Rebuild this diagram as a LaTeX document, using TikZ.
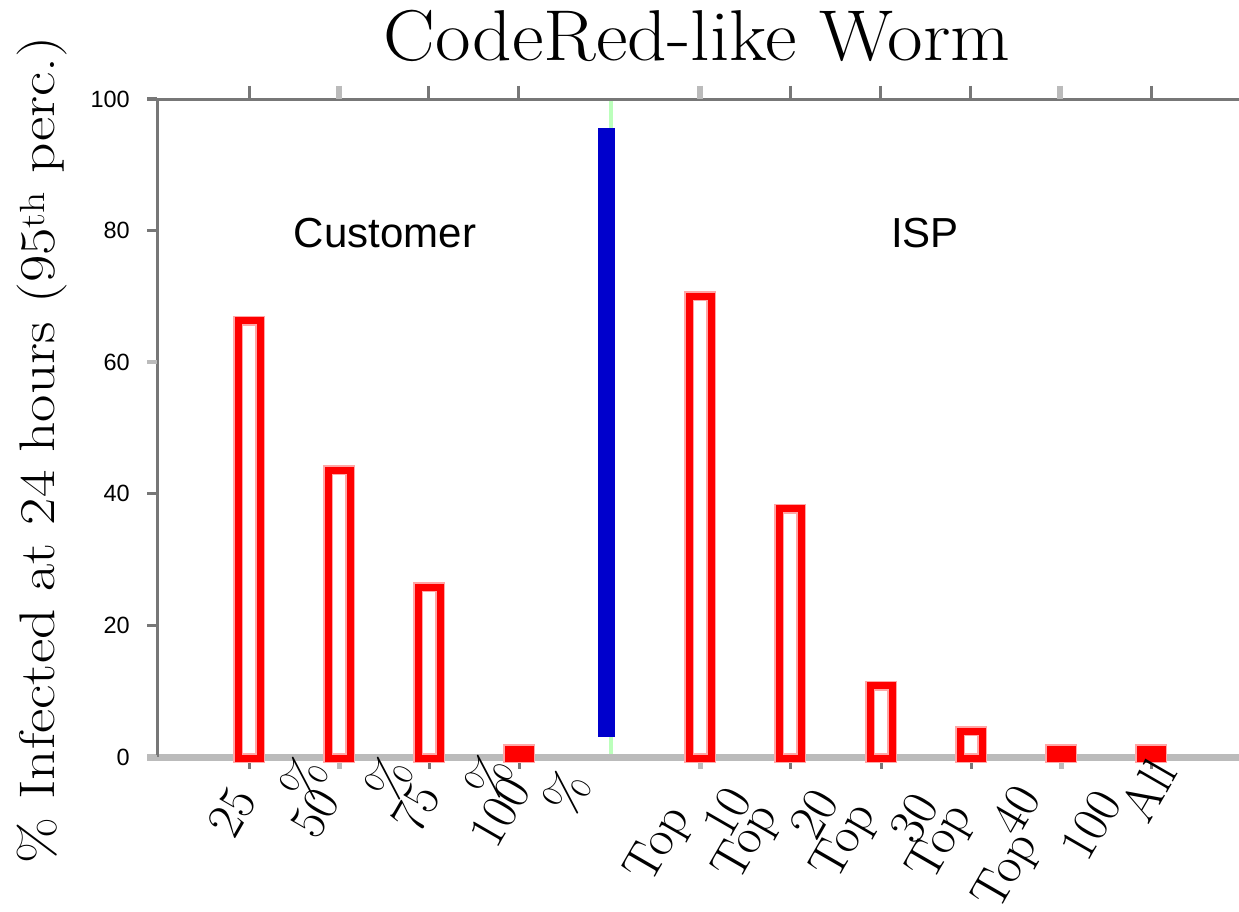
\documentclass[tikz,border=0pt]{standalone}
\usepackage{fontspec}
\newfontfamily\chartsans{Liberation Sans}
\definecolor{axisgray}{HTML}{777777}
\definecolor{axislight}{HTML}{BBBBBB}
\definecolor{sepgreen}{HTML}{BBFFBB}
\definecolor{sepblue}{HTML}{0000CC}
\begin{document}
\begin{tikzpicture}[x=1pt,y=-1pt,
  axisline/.style={draw=axisgray, line width=3pt},
  tickdark/.style={draw=axisgray, line width=3pt},
  ticklight/.style={draw=axislight, line width=6pt},
  bar/.style={draw=red, line width=7pt, preaction={draw=red!35, line width=10pt}},
  ytick/.style={font=\chartsans\fontsize{23.5}{26}\selectfont, anchor=east, inner sep=0pt},
  xlab/.style={font=\fontsize{51}{56}\selectfont, rotate=60, inner sep=0pt},
  grouplab/.style={font=\chartsans\fontsize{42}{48}\selectfont, anchor=base, inner sep=0pt}
]
\useasboundingbox (0,0) rectangle (1239,912);
\fill[white] (0,0) rectangle (1239,912);

% separator between the two groups
\draw[sepgreen, line width=4pt] (611,99) -- (611,757);

% frame: top line, zero line, value axis
\draw[axisline] (147,99.5) -- (1239,99.5);
\draw[axislight, line width=7pt] (147,757) -- (1239,757);
\draw[axisline] (157.5,99.5) -- (157.5,757);

% value axis ticks
\foreach \v in {20,40,80,100}
  \draw[tickdark] (147,{757-6.58*\v}) -- (157,{757-6.58*\v});
\foreach \v in {0,60}
  \draw[axislight, line width=4pt] (147,{757-6.58*\v}) -- (157,{757-6.58*\v});

% category ticks along the top
\foreach \x in {249,428,518,790,880,970,1151}
  \draw[tickdark] (\x,86) -- (\x,99);
\foreach \x in {338.5,700,1060}
  \draw[ticklight] (\x,86) -- (\x,99);

% category ticks below the zero line
\foreach \x in {249,429,519,790,881,971,1151}
  \draw[tickdark] (\x,761) -- (\x,769);
\foreach \x in {339,700,1061}
  \draw[axislight, line width=5pt] (\x,761) -- (\x,769);

% blue separator bar
\fill[sepblue] (598,128) rectangle (615,737);

% infected share per deployment scenario
\foreach \x/\v in {249/66.3, 339/43.6, 429/25.8,
                   700/70, 790/37.7, 881/10.8, 971/3.9}
  \draw[bar] (\x-11,758) rectangle (\x+11,{757-6.58*\v});
\foreach \x/\v in {519/1.2, 1061/1.2, 1151/1.2}
  \draw[bar, fill=red] (\x-11,758) rectangle (\x+11,{757-6.58*\v});

% value axis labels
\node[ytick] (y100) at (130,99) {100};
\node[ytick] (y80) at (130,230.6) {80};
\node[ytick] (y60) at (130,362.2) {60};
\node[ytick] (y40) at (130,493.8) {40};
\node[ytick] (y20) at (130,625.4) {20};
\node[ytick] (y0) at (130,757) {0};

% title and axis title
\node[font=\fontsize{72}{78}\selectfont, anchor=base, xscale=1.075, inner sep=0pt] (title)
  at (697,61) {CodeRed-like Worm};
\node[font=\fontsize{50}{56}\selectfont, rotate=90, xscale=1.19, anchor=base, inner sep=0pt] (ytitle)
  at (54,450) {\% Infected at 24 hours (95\textsuperscript{th} perc.)};

% group labels
\node[grouplab] (customer) at (385,247) {Customer};
\node[grouplab] (isp) at (925,247) {ISP};

% category labels, customer side
\node[xlab] (c25a) at (232,812) {25};   \node[xlab] (c25b) at (304,779) {\%};
\node[xlab] (c50a) at (315,813) {50};   \node[xlab] (c50b) at (389,779) {\%};
\node[xlab] (c75a) at (416,808) {75};   \node[xlab] (c75b) at (489,777) {\%};
\node[xlab] (c100a) at (500,812) {100}; \node[xlab] (c100b) at (567,793) {\%};

% category labels, ISP side
\node[xlab] (t10a) at (660,845) {Top};   \node[xlab] (t10b) at (727,812) {10};
\node[xlab] (t20a) at (748,843) {Top};   \node[xlab] (t20b) at (814,814) {20};
\node[xlab] (t30a) at (846,842) {Top};   \node[xlab] (t30b) at (914,818) {30};
\node[xlab] (t40a) at (942,843) {Top};   \node[xlab] (t40b) at (1016,810) {40};
\node[xlab] (t100a) at (1008,872) {Top}; \node[xlab] (t100b) at (1091,825) {100};
\node[xlab] (tall) at (1148,790) {All};
\end{tikzpicture}
\end{document}
